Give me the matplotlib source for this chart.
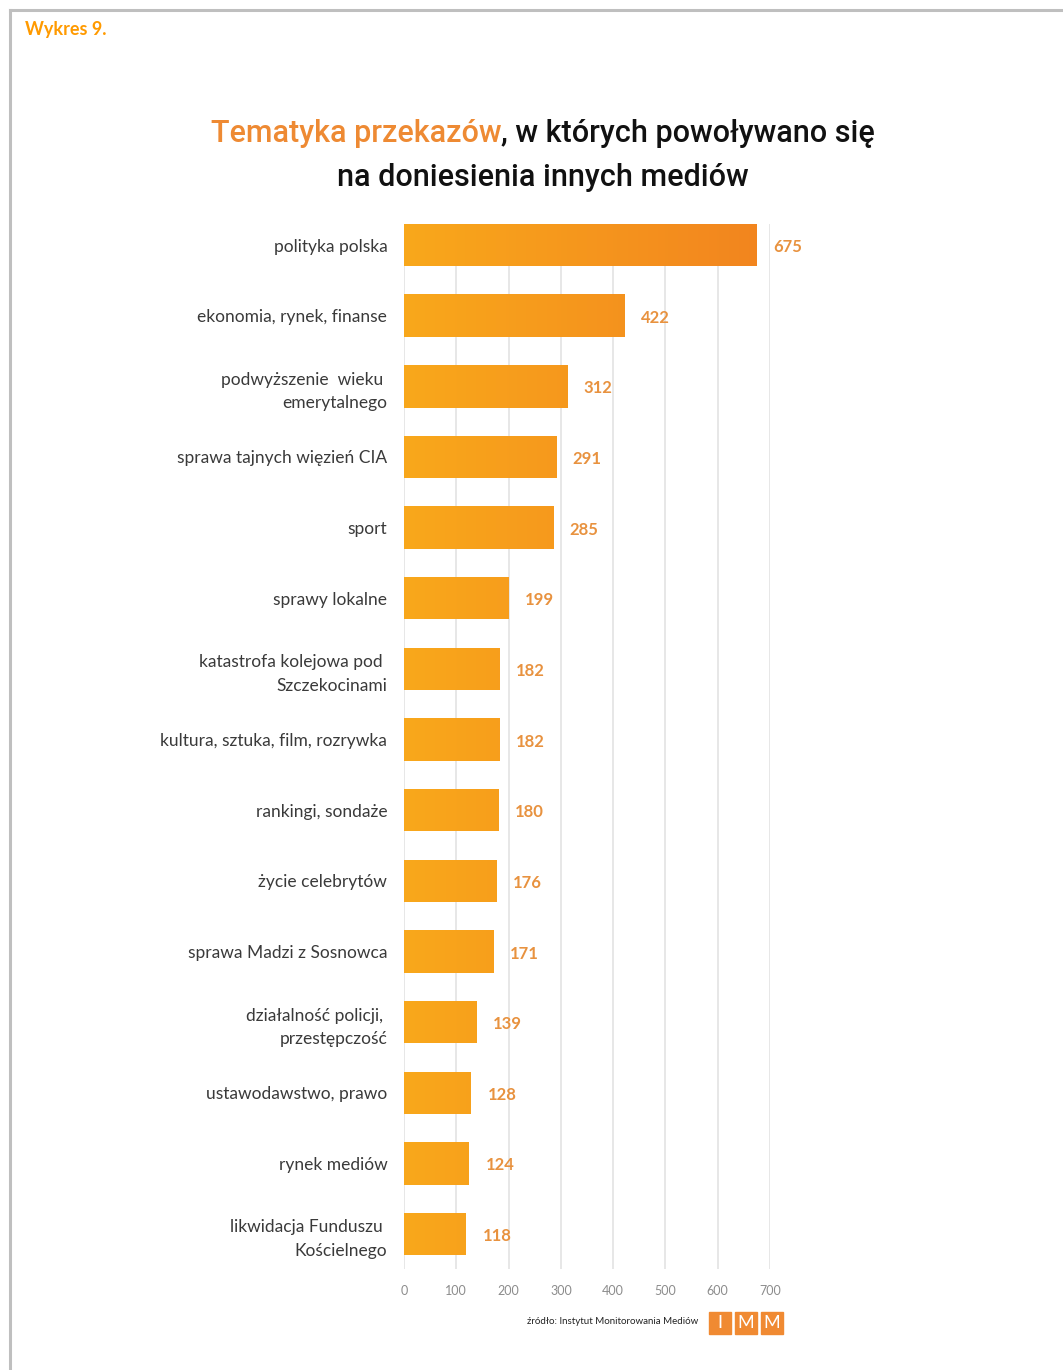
import numpy as np
import matplotlib
matplotlib.use('Agg')
from matplotlib import pyplot as plt
from matplotlib.colors import LinearSegmentedColormap
from matplotlib.patches import Rectangle

# dane z wykresu
kategorie = [
    'polityka polska',
    'ekonomia, rynek, finanse',
    'podwyższenie  wieku \nemerytalnego',
    'sprawa tajnych więzień CIA',
    'sport',
    'sprawy lokalne',
    'katastrofa kolejowa pod \nSzczekocinami',
    'kultura, sztuka, film, rozrywka',
    'rankingi, sondaże',
    'życie celebrytów',
    'sprawa Madzi z Sosnowca',
    'działalność policji, \nprzestępczość',
    'ustawodawstwo, prawo',
    'rynek mediów',
    'likwidacja Funduszu \nKościelnego',
]
wartosci = [675, 422, 312, 291, 285, 199, 182, 182, 180, 176, 171, 139, 128, 124, 118]
ticki = [0, 100, 200, 300, 400, 500, 600, 700]

ORANGE_TXT = '#E8923F'
FONT = ['Lato', 'DejaVu Sans']
TFONT = ['Roboto', 'DejaVu Sans']

fig = plt.figure(figsize=(10.63, 13.70), dpi=100)
fig.patch.set_facecolor('white')

# ramka strony
fig.add_artist(plt.Line2D([10/1063, 1], [1 - 10/1370, 1 - 10/1370], color='#BFBFBF', lw=2.2))
fig.add_artist(plt.Line2D([10/1063, 10/1063], [0, 1 - 10/1370], color='#BFBFBF', lw=2.2))

fig.text(25/1063, 1 - 29/1370, 'Wykres 9.', color='#FF9A00', fontsize=13,
         fontweight='bold', family=FONT, va='center', ha='left')

ax = fig.add_axes([404/1063, 0.0735, (770 - 404)/1063, 0.8366 - 0.0735])

y = np.arange(len(wartosci))
bars = ax.barh(y, wartosci, height=0.6, color='#F7A11E', zorder=2)

# gradient na słupkach (jasny z lewej, ciemniejszy z prawej)
cmap = LinearSegmentedColormap.from_list('gr', ['#F9A81B', '#F2841F'])
grad = np.linspace(0, 1, 256).reshape(1, -1)
for b in bars:
    im = ax.imshow(grad, extent=(0, 700, len(wartosci), -1), cmap=cmap,
                   aspect='auto', zorder=3, interpolation='bicubic')
    im.set_clip_path(b)

for yi, v in zip(y, wartosci):
    ax.annotate(str(v), (v, yi + 0.03), xytext=(12, 0), textcoords='offset points',
                ha='left', va='center', color=ORANGE_TXT, fontsize=12,
                fontweight='bold', family=FONT, annotation_clip=False)

ax.set_xlim(0, 700)
ax.set_ylim(14.5, -0.3)
ax.set_xticks(ticki)
ax.set_xticklabels([str(t) for t in ticki])
ax.set_yticks(y)
ax.set_yticklabels(kategorie)
ax.grid(axis='x', color='#E3E3E3', lw=1.2, zorder=0)
ax.set_axisbelow(True)
for s in ax.spines.values():
    s.set_visible(False)
ax.tick_params(axis='x', length=0, pad=11, labelsize=9, labelcolor='#8C8C8C')
ax.tick_params(axis='y', length=0, pad=12, labelsize=12.5, labelcolor='#3A3A3A')
for lab in ax.get_xticklabels() + ax.get_yticklabels():
    lab.set_family(FONT)
for lab in ax.get_yticklabels():
    lab.set_multialignment('right')
    lab.set_linespacing(1.55)

# tytuł dwukolorowy
tfont = dict(fontsize=22, family=TFONT, fontweight='medium', va='center', ha='left')
t1 = fig.text(0, 1 - 134/1370, 'Tematyka przekazów', color='#EE8A33', **tfont)
t2 = fig.text(0, 1 - 134/1370, ', w których powoływano się', color='#111111', **tfont)
r = fig.canvas.get_renderer()
w1 = t1.get_window_extent(r).width
w2 = t2.get_window_extent(r).width
x0 = 543 - (w1 + w2) / 2
t1.set_x(x0 / 1063)
t2.set_x((x0 + w1) / 1063)
fig.text(543/1063, 1 - 177/1370, 'na doniesienia innych mediów', color='#111111',
         fontsize=22, family=TFONT, fontweight='medium', va='center', ha='center')

# źródło i logo
fig.text(698/1063, 1 - 1322/1370, 'źródło: Instytut Monitorowania Mediów', fontsize=7,
         color='#222222', family=FONT, ha='right', va='center')
for i, ch in enumerate(['I', 'M', 'M']):
    x = 709 + i * 26
    fig.add_artist(Rectangle((x/1063, 1 - 1334/1370), 22/1063, 22/1370,
                             color='#F08A32', transform=fig.transFigure))
    fig.text((x + 11)/1063, 1 - 1323/1370, ch, color='white', fontsize=13,
             family=FONT, ha='center', va='center')

fig.savefig('out.png', dpi=100)
